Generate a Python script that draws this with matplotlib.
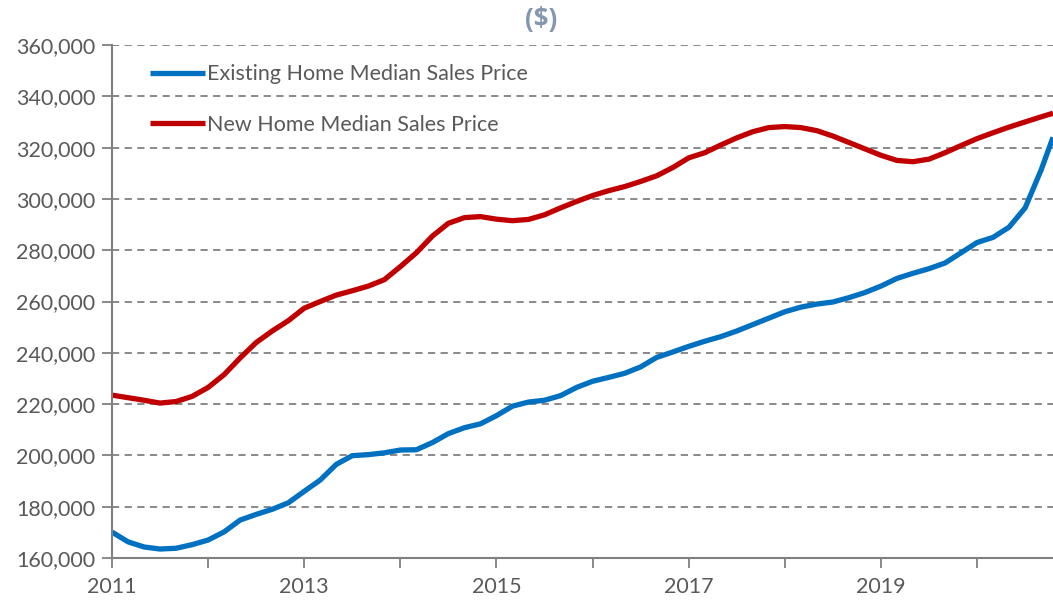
import matplotlib
matplotlib.use("Agg")
import matplotlib.pyplot as plt
from matplotlib.ticker import FuncFormatter, FixedLocator

# Decimal-year positions (every two months from Jan 2011) plus final point
years = [2011 + k / 6 for k in range(59)] + [2020.79]

existing = [170.1, 166.3, 164.3, 163.5, 163.8, 165.2, 167.0, 170.2, 174.8, 177.0,
            179.0, 181.5, 186.0, 190.4, 196.5, 199.9, 200.3, 201.0, 202.1, 202.2,
            205.0, 208.5, 210.8, 212.3, 215.5, 219.2, 220.8, 221.5, 223.3, 226.5,
            228.9, 230.4, 232.0, 234.5, 238.2, 240.3, 242.5, 244.5, 246.3, 248.5,
            251.0, 253.5, 256.0, 257.8, 259.0, 259.8, 261.5, 263.5, 266.0, 269.0,
            271.0, 272.8, 275.0, 279.0, 283.0, 285.0, 289.0, 296.5, 311.3, 324.0]

new_home = [223.5, 222.5, 221.5, 220.4, 221.0, 223.0, 226.5, 231.5, 238.0, 244.0,
            248.5, 252.5, 257.4, 260.0, 262.5, 264.2, 266.0, 268.5, 273.6, 279.0,
            285.5, 290.5, 292.7, 293.1, 292.1, 291.5, 292.0, 293.8, 296.5, 299.0,
            301.3, 303.2, 304.8, 306.8, 309.0, 312.2, 316.0, 318.0, 321.0, 323.8,
            326.2, 327.8, 328.2, 327.8, 326.6, 324.5, 322.0, 319.5, 317.0, 315.0,
            314.5, 315.5, 318.0, 320.8, 323.5, 325.8, 328.0, 330.0, 332.0, 333.4]

existing = [v * 1000 for v in existing]
new_home = [v * 1000 for v in new_home]

series_labels = ["Existing Home Median Sales Price", "New Home Median Sales Price"]
title = "($)"
y_ticks = list(range(160000, 360001, 20000))
x_major = list(range(2011, 2021))
x_labels = {2011: "2011", 2013: "2013", 2015: "2015", 2017: "2017", 2019: "2019"}

plt.rcParams['font.family'] = ['Lato', 'DejaVu Sans']

fig = plt.figure(figsize=(10.53, 6.03), dpi=100)
ax = fig.add_axes([112 / 1053, 1 - 558 / 603, (1053 - 112) / 1053, (558 - 45) / 603])

for vals, col, lab in [(existing, "#0070C0", series_labels[0]),
                       (new_home, "#C00000", series_labels[1])]:
    ax.plot(years, vals, color=col, lw=3.8, label=lab,
            solid_capstyle="butt", solid_joinstyle="round")

ax.set_xlim(2011, 2020.79)
ax.set_ylim(160000, 360000)
ax.yaxis.set_major_locator(FixedLocator(y_ticks))
ax.yaxis.set_major_formatter(FuncFormatter(lambda v, p: f"{int(v):,}"))
ax.xaxis.set_major_locator(FixedLocator(x_major))
ax.xaxis.set_major_formatter(FuncFormatter(lambda v, p: x_labels.get(int(round(v)), "")))

ax.grid(axis="y", color="#808080", linestyle=(0, (4, 3)), lw=1.3)
ax.set_axisbelow(True)
for s in ["top", "right"]:
    ax.spines[s].set_visible(False)
for s in ["left", "bottom"]:
    ax.spines[s].set_color("#808080")
    ax.spines[s].set_linewidth(1.5)

ax.tick_params(axis="y", direction="out", length=7, width=1.3, color="#808080",
               labelcolor="#595959", labelsize=15.5, pad=5)
ax.tick_params(axis="x", direction="out", length=7, width=1.3, color="#808080",
               labelcolor="#595959", labelsize=15.5, pad=7)

leg = ax.legend(loc="upper left", bbox_to_anchor=(0.02, 1.0), frameon=False,
                fontsize=15.5, handlelength=2.55, handletextpad=0.1, labelspacing=1.4,
                labelcolor="#595959")

fig.text(541 / 1053, 1 - 19 / 603, title, ha="center", va="center",
         fontsize=18.5, fontweight="bold", color="#8497B0",
         family=["Open Sans", "DejaVu Sans"])

fig.savefig("out.png", dpi=100)
